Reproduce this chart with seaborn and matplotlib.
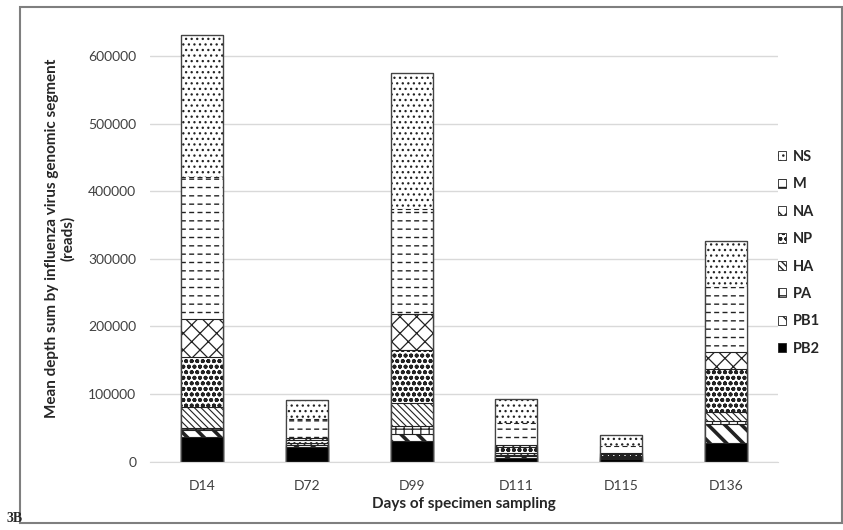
import matplotlib
matplotlib.use("Agg")
import matplotlib.pyplot as plt
import numpy as np
import pandas as pd
import seaborn as sns
from matplotlib.patches import Patch, Rectangle

days = ["D14", "D72", "D99", "D111", "D115", "D136"]
segments = ["PB2", "PB1", "PA", "HA", "NP", "NA", "M", "NS"]
pb2 = [37000, 21300, 31100, 6000, 3500, 28100]
pb1 = [9900, 2700, 9400, 3000, 2000, 27200]
pa = [2500, 1000, 12800, 1500, 800, 5400]
ha = [31100, 2000, 34000, 2000, 1500, 13300]
np_seg = [74800, 5500, 77900, 9000, 3000, 62700]
na = [55800, 3000, 52800, 3500, 1600, 26000]
m = [210500, 27200, 155800, 31700, 11300, 95300]
ns = [209600, 28600, 201600, 36300, 15800, 68900]
yticks = [0, 100000, 200000, 300000, 400000, 500000, 600000]

hatches = {"PB2": "", "PB1": "\\\\", "PA": "++", "HA": "\\\\\\\\\\",
           "NP": "ooo", "NA": "xx", "M": "--", "NS": "..."}
hatch_lw = {"PB2": 0.9, "PB1": 2.6, "PA": 0.9, "HA": 0.8,
            "NP": 1.25, "NA": 0.9, "M": 1.0, "NS": 0.9}

df = pd.DataFrame({"day": days, "PB2": pb2, "PB1": pb1, "PA": pa, "HA": ha,
                   "NP": np_seg, "NA": na, "M": m, "NS": ns})
# cumulative tops, drawn from the top segment down so lower ones cover
cum = df[segments].cumsum(axis=1)
cum["day"] = days

sns.set_style("white")
plt.rcParams["font.family"] = ["Lato", "DejaVu Sans"]

fig = plt.figure(figsize=(8.43, 5.30), dpi=100)
ax = fig.add_axes([0.178, 0.129, 0.745, 0.842])

for seg in segments[::-1]:
    face = "black" if seg == "PB2" else "white"
    with plt.rc_context({"hatch.linewidth": hatch_lw[seg]}):
        sns.barplot(data=cum, x="day", y=seg, order=days, width=0.4,
                    color=face, edgecolor="#222222", linewidth=0.8,
                    hatch=hatches[seg], saturation=1, ax=ax)
    if seg == "M":
        # break the horizontal lines into dashes
        with plt.rc_context({"hatch.linewidth": 2.4}):
            sns.barplot(data=cum, x="day", y=seg, order=days, width=0.4,
                        fill=False, color="white", edgecolor="white",
                        linewidth=0, hatch="||", ax=ax)

# outline of every bar
sns.barplot(data=cum, x="day", y="NS", order=days, width=0.4, fill=False,
            color="#444444", edgecolor="#444444", linewidth=0.9, ax=ax)

ax.set_ylim(0, 660000)
ax.set_yticks(yticks)
ax.set_yticklabels([str(v) for v in yticks], fontsize=10, color="#404040")
ax.tick_params(axis="x", labelsize=10, colors="#404040", length=0, pad=13)
ax.tick_params(axis="y", length=0, pad=10)
ax.yaxis.grid(True, color="#d9d9d9", linewidth=1)
ax.set_axisbelow(True)
for side in ["top", "right", "left"]:
    ax.spines[side].set_visible(False)
ax.spines["bottom"].set_color("#d9d9d9")
ax.set_xlabel("Days of specimen sampling", fontsize=11, fontweight="bold", labelpad=4)
ax.set_ylabel("Mean depth sum by influenza virus genomic segment\n(reads)",
              fontsize=11, fontweight="bold", labelpad=9)

handles = []
for seg in segments[::-1]:
    face = "black" if seg == "PB2" else "white"
    with plt.rc_context({"hatch.linewidth": min(hatch_lw[seg], 1.4)}):
        handles.append(Patch(facecolor=face, edgecolor="#222222", linewidth=0.6,
                             hatch=hatches[seg], label=seg))
fig.legend(handles=handles, loc="upper left", bbox_to_anchor=(0.907, 0.742),
           frameon=False, prop={"weight": "bold", "size": 10.5},
           handlelength=0.6, handleheight=0.6, handletextpad=0.45,
           labelspacing=0.92)

fig.patches.append(Rectangle((20 / 843, 7 / 530), 1 - 21 / 843, 516 / 530,
                             transform=fig.transFigure, fill=False,
                             edgecolor="#7f7f7f", linewidth=1.5))
fig.text(7 / 843, 1 - 518 / 530, "3B", fontsize=10, fontweight="bold",
         family="Liberation Serif", va="center", ha="left")

fig.savefig("out.png", dpi=100)
